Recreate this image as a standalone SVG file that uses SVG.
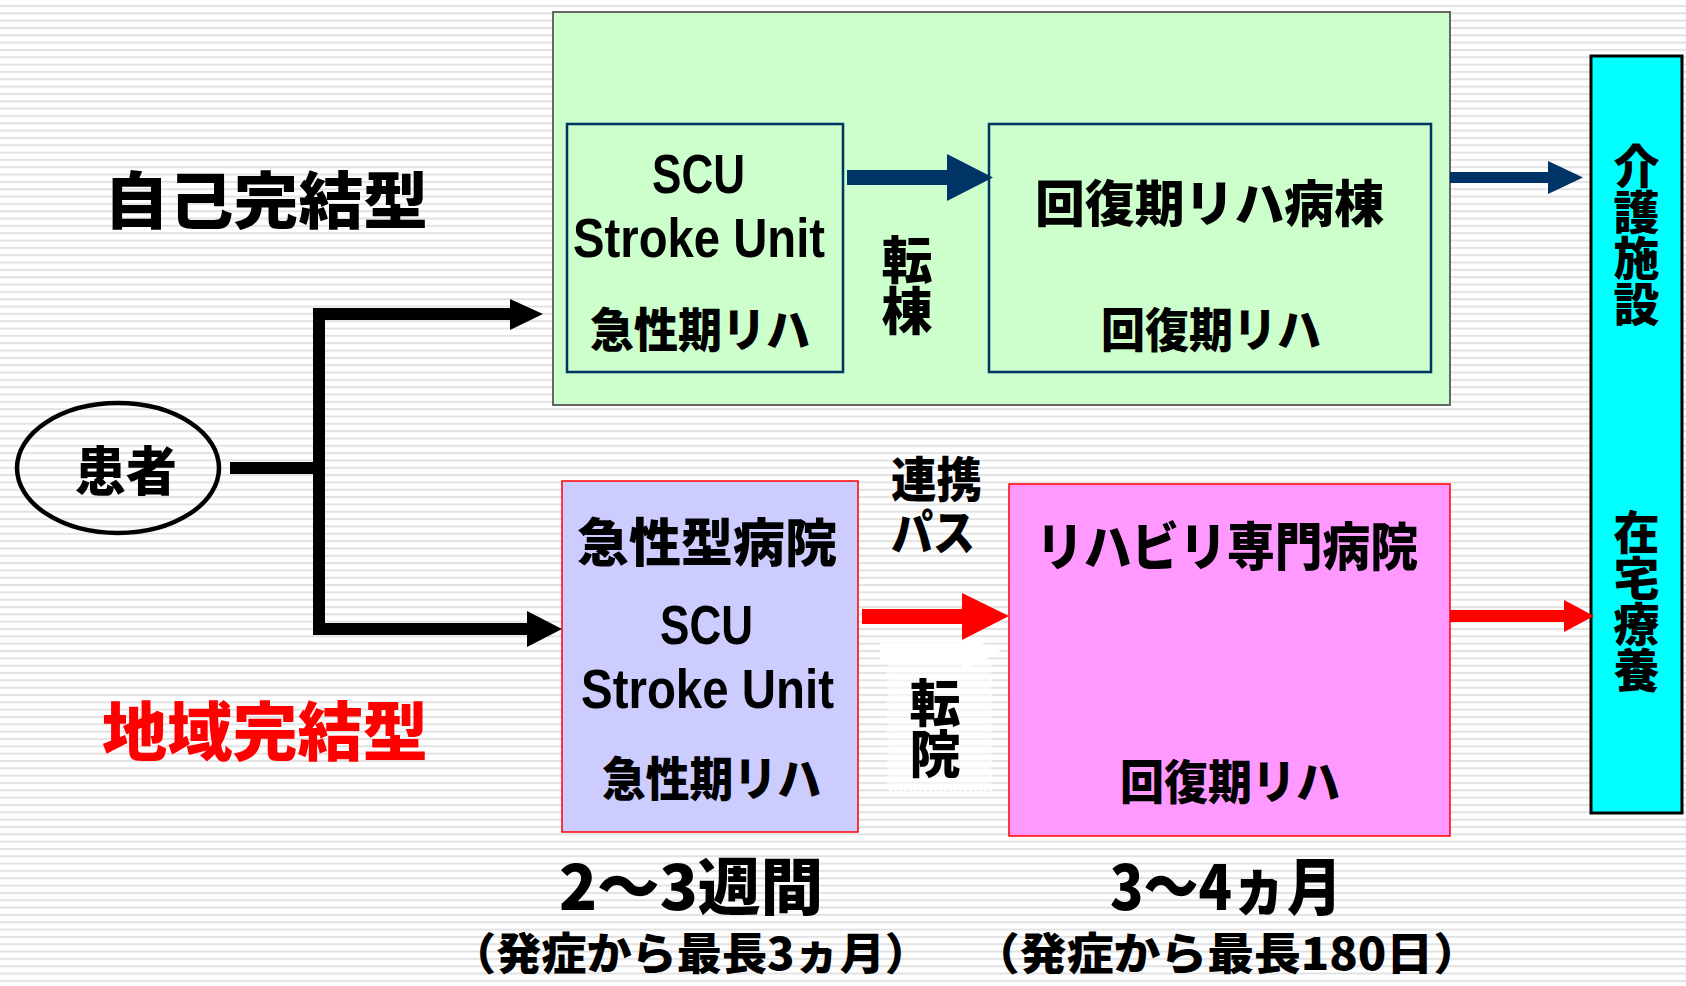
<svg xmlns="http://www.w3.org/2000/svg" width="1686" height="986" viewBox="0 0 1686 986">
<defs>
<pattern id="stripes" x="0" y="5" width="20" height="7.33" patternUnits="userSpaceOnUse">
<rect x="0" y="0" width="20" height="2" fill="#e2e2e2"/>
</pattern>
</defs>
<style>
.t{font-family:"Noto Sans CJK JP","Noto Sans",sans-serif;font-weight:900;fill:#000}
.l{font-family:"Liberation Sans Narrow","Liberation Sans",sans-serif;font-weight:bold;fill:#000}
.box{stroke-width:2.5}
.v{writing-mode:vertical-rl}
</style>
<rect x="0" y="0" width="1686" height="986" fill="#ffffff"/>
<rect x="0" y="0" width="1686" height="986" fill="url(#stripes)"/>

<g id="self-contained">
<rect x="553" y="12" width="897" height="393" fill="#ccffcc" stroke="#666666" stroke-width="2"/>
</g>

<g id="label-self">
<text class="t" x="104" y="224" font-size="62" textLength="324" lengthAdjust="spacingAndGlyphs">自己完結型</text>
</g>
<g id="label-region">
<text class="t" x="102" y="755" font-size="64" textLength="326" lengthAdjust="spacingAndGlyphs" style="fill:#ff0000">地域完結型</text>
</g>

<g id="patient">
<ellipse cx="118" cy="468" rx="101" ry="65" fill="none" stroke="#000" stroke-width="4.5"/>
<text class="t" x="75" y="491" font-size="53" textLength="102" lengthAdjust="spacingAndGlyphs">患者</text>
</g>

<g id="scu-top">
<rect x="567" y="124" width="276" height="248" fill="#ccffcc" stroke="#003366" class="box"/>
<text class="l" x="652" y="193" font-size="56" textLength="93" lengthAdjust="spacingAndGlyphs">SCU</text>
<text class="l" x="573" y="257" font-size="56" textLength="252" lengthAdjust="spacingAndGlyphs">Stroke Unit</text>
<text class="t" x="590" y="347" font-size="47" textLength="220" lengthAdjust="spacingAndGlyphs">急性期リハ</text>
</g>

<g id="transfer-ward">
<text class="t v" x="907" y="234" font-size="51">転棟</text>
</g>

<g id="recovery-ward">
<rect x="989" y="124" width="442" height="248" fill="#ccffcc" stroke="#003366" class="box"/>
<text class="t" x="1035" y="222" font-size="50" textLength="349" lengthAdjust="spacingAndGlyphs">回復期リハ病棟</text>
<text class="t" x="1101" y="347" font-size="47" textLength="220" lengthAdjust="spacingAndGlyphs">回復期リハ</text>
</g>

<g id="acute-hospital">
<rect x="562" y="481" width="296" height="351" fill="#ccccff" stroke="#ff0000" stroke-width="1.5"/>
<text class="t" x="577" y="562" font-size="52" textLength="260" lengthAdjust="spacingAndGlyphs">急性型病院</text>
<text class="l" x="660" y="644" font-size="56" textLength="93" lengthAdjust="spacingAndGlyphs">SCU</text>
<text class="l" x="581" y="708" font-size="56" textLength="253" lengthAdjust="spacingAndGlyphs">Stroke Unit</text>
<text class="t" x="602" y="796" font-size="47" textLength="219" lengthAdjust="spacingAndGlyphs">急性期リハ</text>
</g>

<g id="rehab-hospital">
<rect x="1009" y="484" width="441" height="352" fill="#ff99ff" stroke="#ff0000" stroke-width="1.5"/>
<text class="t" x="1036" y="566" font-size="52" textLength="382" lengthAdjust="spacingAndGlyphs">リハビリ専門病院</text>
<text class="t" x="1120" y="799" font-size="47" textLength="220" lengthAdjust="spacingAndGlyphs">回復期リハ</text>
</g>

<g id="care-home">
<rect x="1591" y="56" width="91" height="757" fill="#00ffff" stroke="#000" stroke-width="3"/>
<text class="t v" x="1636.5" y="143" font-size="46">介護施設</text>
<text class="t v" x="1636.5" y="509" font-size="46">在宅療養</text>
</g>

<g id="connectors">
<path d="M230 468 H319" fill="none" stroke="#000" stroke-width="12"/>
<path d="M512 314 H319 V629 H530" fill="none" stroke="#000" stroke-width="12" stroke-linejoin="miter"/>
<polygon points="510,299 543,314 510,330" fill="#000"/>
<polygon points="527,611 562,629 527,647" fill="#000"/>

<rect x="847" y="170" width="101" height="15" fill="#003366"/>
<polygon points="947,154 993,177.5 947,201" fill="#003366"/>

<rect x="1450" y="172" width="99" height="11" fill="#003366"/>
<polygon points="1548,161 1583,177.5 1548,194" fill="#003366"/>

<rect x="888" y="662" width="103" height="128" fill="#ffffff" fill-opacity="0.55" stroke="#ffffff" stroke-width="1.5" stroke-dasharray="3,2"/>
<polygon points="880,643 962,643 962,634 1002,652 962,670 962,661 880,661" fill="#ffffff"/>
<rect x="862" y="609" width="101" height="15" fill="#ff0000"/>
<polygon points="962,593 1009,616 962,640" fill="#ff0000"/>

<rect x="1450" y="610" width="115" height="12" fill="#ff0000"/>
<polygon points="1564,600 1594,616 1564,632" fill="#ff0000"/>
</g>

<g id="transfer-path">
<text class="t" font-size="48"><tspan x="891" y="497" textLength="91" lengthAdjust="spacingAndGlyphs">連携</tspan><tspan x="891" y="550" textLength="84" lengthAdjust="spacingAndGlyphs">パス</tspan></text>
</g>
<g id="transfer-hospital">
<text class="t v" x="935" y="677" font-size="51">転院</text>
</g>

<g id="duration-acute">
<text class="t" x="559" y="910" font-size="62" textLength="264" lengthAdjust="spacingAndGlyphs">2〜3週間</text>
<text class="t" x="451" y="970" font-size="44" textLength="479" lengthAdjust="spacingAndGlyphs">（発症から最長3ヵ月）</text>
</g>
<g id="duration-rehab">
<text class="t" x="1110" y="910" font-size="62" textLength="232" lengthAdjust="spacingAndGlyphs">3〜4ヵ月</text>
<text class="t" x="973" y="970" font-size="44" textLength="507" lengthAdjust="spacingAndGlyphs">（発症から最長180日）</text>
</g>
</svg>
